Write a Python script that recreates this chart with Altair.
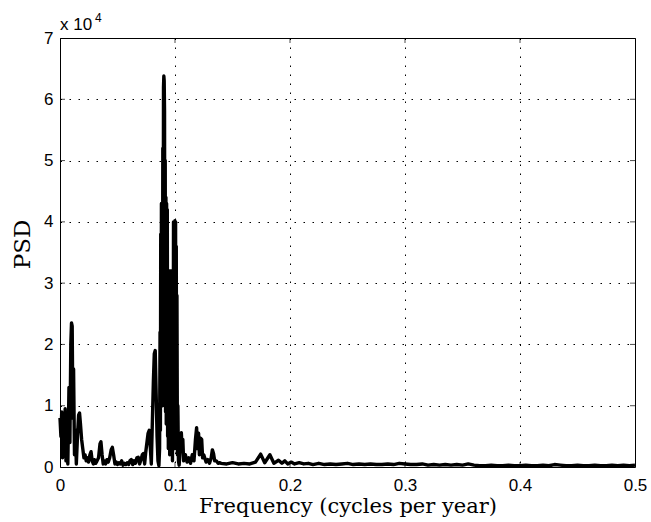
import altair as alt
import pandas as pd

# Frequency (cycles per year)
freq = [
    0.0000, 0.0008, 0.0015, 0.0022, 0.0030, 0.0038, 0.0045, 0.0052, 0.0060, 0.0068,
    0.0078, 0.0086, 0.0094, 0.0100, 0.0106, 0.0112, 0.0118, 0.0126, 0.0134, 0.0142,
    0.0152, 0.0162, 0.0170, 0.0178, 0.0188, 0.0198, 0.0208, 0.0218, 0.0228, 0.0238,
    0.0248, 0.0260, 0.0270, 0.0280, 0.0290, 0.0300, 0.0310, 0.0322, 0.0335, 0.0348,
    0.0356, 0.0366, 0.0376, 0.0386, 0.0396, 0.0408, 0.0420, 0.0432, 0.0445, 0.0455,
    0.0466, 0.0478, 0.0490, 0.0500, 0.0512, 0.0524, 0.0536, 0.0548, 0.0560, 0.0572,
    0.0584, 0.0596, 0.0608, 0.0620, 0.0632, 0.0644, 0.0656, 0.0668, 0.0680, 0.0692,
    0.0704, 0.0716, 0.0726, 0.0736, 0.0746, 0.0756, 0.0766, 0.0776, 0.0786, 0.0794,
    0.0804, 0.0812, 0.0820, 0.0828, 0.0836, 0.0844, 0.0852,
    0.0860, 0.0866, 0.0870, 0.0873, 0.0876, 0.0879, 0.0882, 0.0885, 0.0888, 0.0891,
    0.0894, 0.0897, 0.0900, 0.0903, 0.0906, 0.0909, 0.0912, 0.0915, 0.0918, 0.0921,
    0.0924, 0.0927, 0.0930, 0.0933, 0.0936, 0.0939, 0.0942, 0.0945, 0.0948, 0.0951,
    0.0954, 0.0957, 0.0960, 0.0963, 0.0966, 0.0969, 0.0972, 0.0975, 0.0978, 0.0981,
    0.0984, 0.0987, 0.0990, 0.0993, 0.0996, 0.0999, 0.1002, 0.1005, 0.1008, 0.1011,
    0.1014, 0.1017, 0.1021, 0.1025, 0.1030, 0.1036,
    0.1045, 0.1055, 0.1062, 0.1068, 0.1075, 0.1090, 0.1105, 0.1120, 0.1135, 0.1150,
    0.1165, 0.1178, 0.1188, 0.1195, 0.1205, 0.1212, 0.1222, 0.1232, 0.1240, 0.1250,
    0.1270, 0.1285, 0.1300, 0.1315, 0.1325, 0.1335, 0.1345, 0.1360, 0.1375, 0.1390,
    0.140, 0.145, 0.150, 0.155, 0.160, 0.165, 0.170, 0.1745, 0.178, 0.1825,
    0.186, 0.190, 0.193, 0.1955, 0.198, 0.201, 0.204, 0.208, 0.212, 0.216,
    0.220, 0.225, 0.230, 0.235, 0.240, 0.245, 0.250, 0.255, 0.260, 0.265,
    0.270, 0.275, 0.280, 0.285, 0.290, 0.295, 0.300, 0.305, 0.310, 0.315,
    0.320, 0.325, 0.330, 0.335, 0.340, 0.345, 0.350, 0.355, 0.360, 0.365,
    0.370, 0.375, 0.380, 0.385, 0.390, 0.395, 0.400, 0.405, 0.410, 0.415,
    0.420, 0.425, 0.430, 0.435, 0.440, 0.445, 0.450, 0.455, 0.460, 0.465,
    0.470, 0.475, 0.480, 0.485, 0.490, 0.495, 0.500,
]

# PSD in units of 10^4
psd = [
    0.80, 0.50, 0.90, 0.15, 0.85, 0.30, 0.95, 0.10, 0.60, 0.05,
    1.30, 0.40, 2.00, 2.35, 2.30, 0.80, 1.60, 0.20, 0.60, 0.05,
    0.50, 0.85, 0.88, 0.70, 0.45, 0.30, 0.15, 0.20, 0.10, 0.15,
    0.08, 0.20, 0.25, 0.10, 0.05, 0.12, 0.06, 0.10, 0.15, 0.38,
    0.41, 0.20, 0.05, 0.10, 0.05, 0.12, 0.08, 0.15, 0.28, 0.32,
    0.20, 0.05, 0.08, 0.04, 0.07, 0.05, 0.10, 0.03, 0.06, 0.04,
    0.07, 0.04, 0.10, 0.12, 0.04, 0.10, 0.06, 0.15, 0.16, 0.05,
    0.12, 0.20, 0.22, 0.05, 0.25, 0.40, 0.55, 0.60, 0.30, 0.05,
    0.80, 1.40, 1.85, 1.90, 1.20, 0.50, 0.10,
    0.02, 0.30, 2.20, 0.60, 3.80, 1.00, 4.30, 1.20, 4.20, 1.00,
    5.20, 2.00, 6.20, 6.38, 6.30, 5.80, 1.50, 5.00, 0.90, 4.40,
    0.70, 4.30, 0.90, 4.20, 0.50, 3.20, 0.30, 3.15, 0.60, 3.20,
    0.20, 3.15, 0.40, 3.20, 0.20, 3.10, 0.50, 3.20, 0.10, 3.00,
    0.40, 4.00, 0.60, 3.90, 0.30, 4.02, 0.80, 4.00, 0.50, 3.60,
    0.30, 2.80, 0.20, 1.00, 0.10, 0.03,
    0.30, 0.56, 0.30, 0.45, 0.10, 0.20, 0.08, 0.15, 0.06, 0.20,
    0.10, 0.45, 0.64, 0.30, 0.55, 0.20, 0.47, 0.45, 0.15, 0.20,
    0.08, 0.12, 0.06, 0.15, 0.28, 0.22, 0.10, 0.10, 0.06, 0.07,
    0.06, 0.05, 0.07, 0.05, 0.06, 0.05, 0.08, 0.21, 0.07, 0.20,
    0.06, 0.11, 0.06, 0.10, 0.05, 0.08, 0.05, 0.07, 0.05, 0.06,
    0.04, 0.06, 0.04, 0.05, 0.04, 0.05, 0.06, 0.04, 0.05, 0.04,
    0.05, 0.04, 0.04, 0.05, 0.04, 0.06, 0.05, 0.04, 0.04, 0.05,
    0.03, 0.04, 0.03, 0.04, 0.03, 0.04, 0.03, 0.05, 0.03, 0.02,
    0.02, 0.03, 0.02, 0.02, 0.03, 0.02, 0.02, 0.03, 0.02, 0.02,
    0.03, 0.02, 0.04, 0.03, 0.02, 0.02, 0.03, 0.02, 0.02, 0.03,
    0.02, 0.02, 0.03, 0.02, 0.03, 0.02, 0.03,
]

x_label_values = [0, 0.1, 0.2, 0.3, 0.4, 0.5]
y_label_values = [0, 1, 2, 3, 4, 5, 6, 7]
inner_x_ticks = [0.1, 0.2, 0.3, 0.4]
inner_y_ticks = [1, 2, 3, 4, 5, 6]
multiplier_text = ["x 10"]
exponent_text = ["4"]

df = pd.DataFrame({"f": freq, "p": psd})
tx = pd.DataFrame({"t": inner_x_ticks})
ty = pd.DataFrame({"t": inner_y_ticks})

xscale = alt.Scale(domain=[0, 0.5], nice=False, zero=False)
yscale = alt.Scale(domain=[0, 7], nice=False)

grid_common = dict(
    grid=True, gridDash=[1.5, 7.5], gridColor="black", gridOpacity=1, gridWidth=1,
    ticks=False, tickSize=0, domain=False, labelFlush=False, labelOverlap=False,
    labelFont="Liberation Sans", labelFontSize=17, labelColor="black",
    titleFont="DejaVu Serif", titleFontWeight="normal", titleColor="black",
)

line = alt.Chart(df).mark_line(color="black", strokeWidth=3.4, strokeJoin="round").encode(
    x=alt.X("f:Q", scale=xscale,
            axis=alt.Axis(values=x_label_values, format="~g", labelPadding=10,
                          title="Frequency (cycles per year)", titleFontSize=21,
                          titlePadding=2, **grid_common)),
    y=alt.Y("p:Q", scale=yscale,
            axis=alt.Axis(values=y_label_values, format="d", labelPadding=7,
                          title="PSD", titleFontSize=23, titleX=-26, titleY=206, titleAngle=270,
                          titleBaseline="bottom", titleAlign="center", **grid_common)),
)

tick_style = dict(color="black", size=10, thickness=1, clip=True)

bottom_ticks = alt.Chart(tx).mark_tick(orient="vertical", **tick_style).encode(
    x=alt.X("t:Q", scale=xscale, axis=None), y=alt.YDatum(0, axis=None))
top_ticks = alt.Chart(tx).mark_tick(orient="vertical", **tick_style).encode(
    x=alt.X("t:Q", scale=xscale, axis=None), y=alt.YDatum(7, axis=None))
left_ticks = alt.Chart(ty).mark_tick(orient="horizontal", **tick_style).encode(
    y=alt.Y("t:Q", scale=yscale, axis=None), x=alt.XDatum(0, axis=None))
right_ticks = alt.Chart(ty).mark_tick(orient="horizontal", **tick_style).encode(
    y=alt.Y("t:Q", scale=yscale, axis=None), x=alt.XDatum(0.5, axis=None))

mult = alt.Chart(pd.DataFrame({"s": multiplier_text})).mark_text(
    align="left", baseline="alphabetic", font="Liberation Sans", fontSize=17, color="black"
).encode(text="s:N", x=alt.value(0), y=alt.value(-8))
expo = alt.Chart(pd.DataFrame({"s": exponent_text})).mark_text(
    align="left", baseline="alphabetic", font="Liberation Sans", fontSize=12, color="black"
).encode(text="s:N", x=alt.value(35), y=alt.value(-16))

chart = alt.layer(line, bottom_ticks, top_ticks, left_ticks, right_ticks, mult, expo).resolve_axis(
    x="independent", y="independent"
).properties(
    width=575, height=429,
    padding={"left": 60, "top": 38, "right": 16, "bottom": 55},
    autosize=alt.AutoSizeParams(type="none"),
    background="white",
).configure_view(stroke="black", strokeWidth=1)

chart.save("out.html", embed_options={"renderer": "svg", "actions": False})
